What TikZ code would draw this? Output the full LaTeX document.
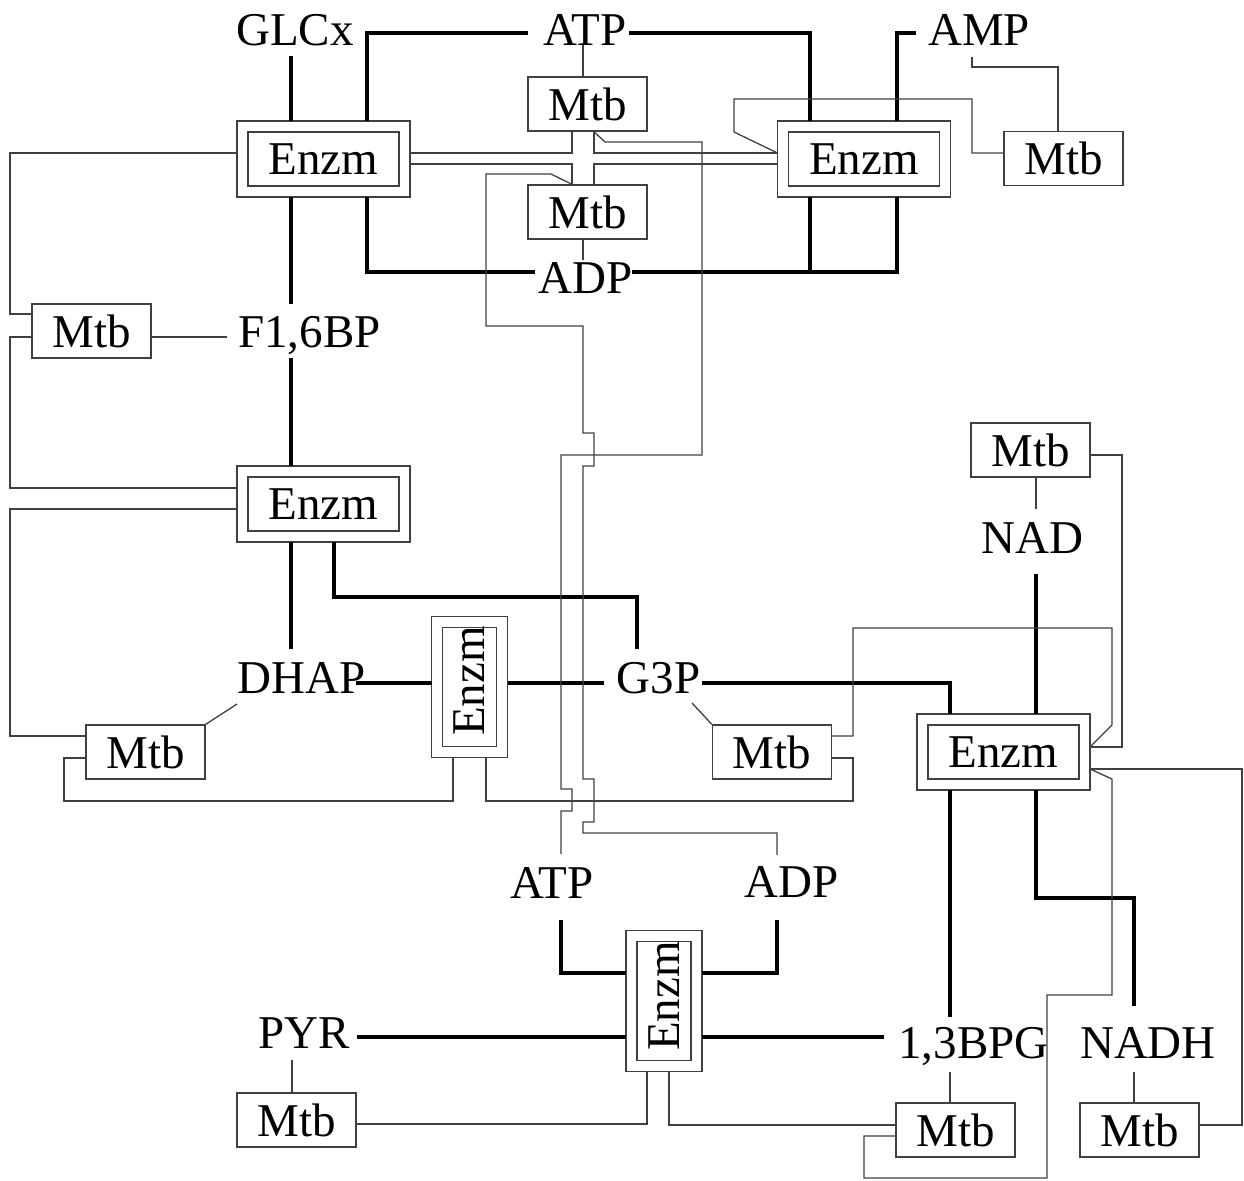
\documentclass[tikz,border=0pt]{standalone}
\usepackage{fontspec}
\setmainfont{Liberation Serif}
\usetikzlibrary{calc}
\definecolor{lc}{HTML}{404040}
\begin{document}
\begin{tikzpicture}[x=0.5pt,y=-0.5pt,
  lbl/.style={font=\fontsize{23.5pt}{28pt}\selectfont, inner sep=0pt, anchor=base},
  mtb/.style={draw=lc, line width=0.65pt, minimum width=59.5pt, minimum height=27pt, inner sep=0pt, font=\fontsize{23.5pt}{28pt}\selectfont},
  enz/.style={draw=lc, line width=0.65pt, double, double distance=4.85pt, minimum width=81pt, minimum height=32.5pt, inner sep=0pt, outer sep=2.75pt, font=\fontsize{23.5pt}{28pt}\selectfont},
  enzv/.style={draw=lc, line width=0.65pt, double, double distance=4.85pt, minimum width=32.5pt, minimum height=64.75pt, inner sep=0pt, outer sep=2.75pt},
  vtxt/.style={font=\fontsize{23.5pt}{28pt}\selectfont, inner sep=0pt, rotate=90},
  thk/.style={line width=2.2pt, black},
  thn/.style={line width=0.65pt, lc}]
\useasboundingbox (0,0) rectangle (1244,1180);

% metabolite labels
\node[lbl] (GLC)  at (295,45)    {GLCx};
\node[lbl] (ATP)  at (585,45)    {ATP};
\node[lbl] (AMP)  at (979,45)    {AMP};
\node[lbl] (F16)  at (309.5,347) {F1,6BP};
\node[lbl] (ADP)  at (586,293)   {ADP};
\node[lbl] (DHAP) at (301.5,693) {DHAP};
\node[lbl] (G3P)  at (658.5,693) {G3P};
\node[lbl] (NAD)  at (1032.5,553) {NAD};
\node[lbl] (ATPb) at (552,898)   {ATP};
\node[lbl] (ADPb) at (792,897)   {ADP};
\node[lbl] (PYR)  at (304.5,1048) {PYR};
\node[lbl] (BPG)  at (973.5,1058) {1,3BPG};
\node[lbl] (NADH) at (1148,1058) {NADH};

% enzymes
\node[enz] (E1) at (323.5,159) {Enzm};
\node[enz] (E2) at (864,159)   {Enzm};
\node[enz] (E3) at (323.5,504) {Enzm};
\node[enz] (E4) at (1003.5,752) {Enzm};
\node[enzv] (Ev1) at (469.5,687) {};
\node[vtxt] (Ev1t) at ($(Ev1.center)+(0,-6)$) {Enzm};
\node[enzv] (Ev2) at (664,1001) {};
\node[vtxt] (Ev2t) at ($(Ev2.center)+(0,-5)$) {Enzm};

% Mtb boxes
\node[mtb] (Ma) at (587.5,104)   {Mtb};
\node[mtb] (Mb) at (587.5,212)   {Mtb};
\node[mtb] (Mc) at (1063.5,158.5) {Mtb};
\node[mtb] (ML) at (91.5,331)    {Mtb};
\node[mtb] (Me) at (145.5,752)   {Mtb};
\node[mtb] (Md) at (772,752)     {Mtb};
\node[mtb] (Mf) at (1030.5,450)  {Mtb};
\node[mtb] (Mg) at (955.5,1130)  {Mtb};
\node[mtb] (Mh) at (1139.5,1130) {Mtb};
\node[mtb] (Mi) at (296.5,1120)  {Mtb};

% thick reaction lines
\draw[thk] ($(GLC.base)+(-4,11)$) -- (E1.north -| 291,0);
\draw[thk] (E1.north -| 367,0) -- (367,33) -- ($(ATP.base)+(-57,-12)$);
\draw[thk] ($(ATP.base)+(44,-12)$) -- (810,33) -- (E2.north -| 810,0);
\draw[thk] ($(AMP.base)+(-63,-12)$) -- (897,33) -- (E2.north -| 897,0);
\draw[thk] (E1.south -| 291,0) -- ($(F16.base)+(-18.5,-43)$);
\draw[thk] (E1.south -| 367,0) -- (367,272) -- ($(ADP.base)+(-51,-21)$);
\draw[thk] (E2.south -| 810,0) -- (810,272);
\draw[thk] (E2.south -| 897,0) -- (897,272) -- ($(ADP.base)+(46,-21)$);
\draw[thk] ($(F16.base)+(-18.5,11)$) -- (E3.north -| 291,0);
\draw[thk] (E3.south -| 291,0) -- ($(DHAP.base)+(-10.5,-44)$);
\draw[thk] (E3.south -| 334,0) -- (334,597) -- (637,597) -- ($(G3P.base)+(-21.5,-44)$);
\draw[thk] ($(DHAP.base)+(54.5,-10)$) -- (Ev1.west |- 0,683);
\draw[thk] (Ev1.east |- 0,683) -- ($(G3P.base)+(-54.5,-10)$);
\draw[thk] ($(G3P.base)+(43.5,-10)$) -- (950,683) -- (E4.north -| 950,0);
\draw[thk] ($(NAD.base)+(3.5,21)$) -- (E4.north -| 1036,0);
\draw[thk] (E4.south -| 950,0) -- ($(BPG.base)+(-23.5,-41)$);
\draw[thk] (E4.south -| 1036,0) -- (1036,898) -- (1134,898) -- ($(NADH.base)+(-14,-52)$);
\draw[thk] ($(ATPb.base)+(9,22)$) -- (561,973) -- (Ev2.west |- 0,973);
\draw[thk] ($(ADPb.base)+(-15,23)$) -- (777,973) -- (Ev2.east |- 0,973);
\draw[thk] ($(PYR.base)+(52.5,-11)$) -- (Ev2.west |- 0,1037);
\draw[thk] (Ev2.east |- 0,1037) -- ($(BPG.base)+(-89.5,-21)$);

% thin regulation lines
\draw[thn] ($(ATP.base)+(-2,0)$) -- (Ma.north -| 583,0);
\draw[thn] (E1.east |- 0,153) -- (572,153) -- (Ma.south -| 572,0);
\draw[thn] (Ma.south -| 594,0) -- (594,153) -- (E2.west |- 0,153);
\draw[thn] (E1.east |- 0,164) -- (572,164) -- (Mb.north -| 572,0);
\draw[thn] (Mb.north -| 594,0) -- (594,164) -- (E2.west |- 0,164);
\draw[thn] (Mb.south -| 583,0) -- ($(ADP.base)+(-3,-33)$);
\draw[thn] (E1.west |- 0,153) -- (10,153) -- (10,314) -- (ML.west |- 0,314);
\draw[thn] (ML.east |- 0,337) -- ($(F16.base)+(-82.5,-10)$);
\draw[thn] (ML.west |- 0,337) -- (10,337) -- (10,488) -- (E3.west |- 0,488);
\draw[thn] (E3.west |- 0,509) -- (10,509) -- (10,736) -- (Me.west |- 0,736);
\draw[thn] ($(DHAP.base)+(-64.5,11)$) -- (Me.north east);
\draw[thn] (Me.west |- 0,758) -- (64,758) -- (64,801) -- (453,801) -- (Ev1.south -| 453,0);
\draw[thn] (Ev1.south -| 486,0) -- (486,801) -- (853,801) -- (853,758) -- (Md.east |- 0,758);
\draw[thn] ($(G3P.base)+(33.5,10)$) -- (Md.north west);
\draw[thn] (Md.east |- 0,736) -- (853,736) -- (853,628) -- (1112,628) -- (1112,725) -- (E4.east |- 0,747);
\draw[thn] (Mf.south -| 1036,0) -- ($(NAD.base)+(3.5,-44)$);
\draw[thn] (Mf.east |- 0,455) -- (1122,455) -- (1122,747) -- (E4.east |- 0,747);
\draw[thn] (E4.east |- 0,769) -- (1242,769) -- (1242,1125) -- (Mh.east |- 0,1125);
\draw[thn] (E4.east |- 0,769) -- (1112,779) -- (1112,995) -- (1047,995) -- (1047,1178) -- (864,1178) -- (864,1136) -- (Mg.west |- 0,1136);
\draw[thn] ($(BPG.base)+(-23.5,14)$) -- (Mg.north -| 950,0);
\draw[thn] ($(NADH.base)+(-14,14)$) -- (Mh.north -| 1134,0);
\draw[thn] ($(PYR.base)+(-12.5,12)$) -- (Mi.north -| 292,0);
\draw[thn] (Mi.east |- 0,1124) -- (647,1124) -- (Ev2.south -| 647,0);
\draw[thn] (Ev2.south -| 669,0) -- (669,1125) -- (Mg.west |- 0,1125);
\draw[thn] ($(AMP.base)+(-7,12)$) -- (972,67) -- (1058,67) -- (Mc.north -| 1058,0);
\draw[thn] (Mc.west |- 0,153) -- (972,153) -- (972,99) -- (734,99) -- (734,132) -- (E2.west |- 0,153);
\draw[thn] (Ma.south -| 594,0) -- (605,142) -- (702,142) -- (702,455) -- (561,455) -- (561,789) -- (572,789) -- (572,811) -- (561,811) -- ($(ATPb.base)+(9,-44)$);
\draw[thn] (Mb.north -| 572,0) -- (551,174) -- (486,174) -- (486,326) -- (583,326) -- (583,433) -- (594,433) -- (594,466) -- (583,466) -- (583,779) -- (594,779) -- (594,822) -- (583,822) -- (583,833) -- (777,833) -- ($(ADPb.base)+(-15,-42)$);
\end{tikzpicture}
\end{document}
